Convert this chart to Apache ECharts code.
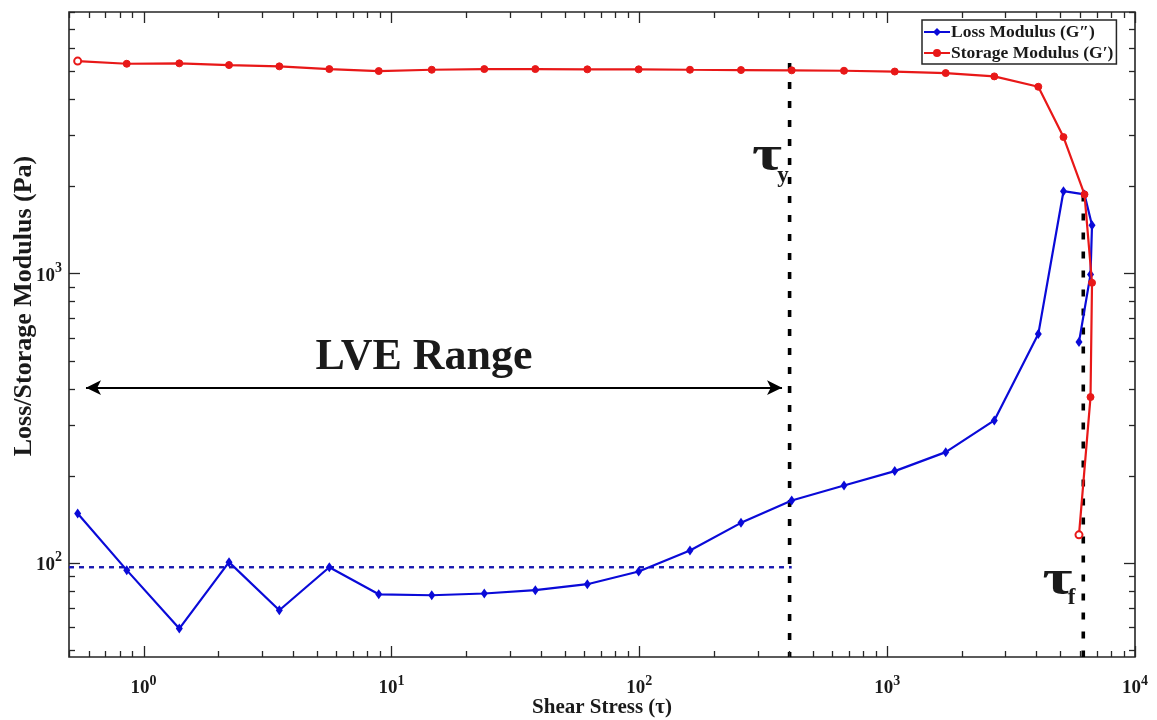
<!DOCTYPE html>
<html>
<head>
<meta charset="utf-8">
<script src="https://cdn.jsdelivr.net/npm/echarts@6.0.0/dist/echarts.min.js"></script>
<style>
html,body{margin:0;padding:0;background:#fff;}
#chart{width:1157px;height:720px;}
</style>
</head>
<body>
<div id="chart"></div>
<script>
// ---- data ----
const shearStress = [0.542, 0.855, 1.393, 2.211, 3.528, 5.614, 8.886, 14.54, 23.69, 38.06, 61.7, 99.4, 160.1, 257.2, 412, 669.8, 1073, 1723, 2706, 4072, 5146, 6255, 6708, 6615, 5943];
const lossModulus = [148.2, 94.4, 59.3, 100.6, 68.6, 96.6, 77.9, 77.3, 78.4, 80.5, 84.4, 93.4, 110.4, 137.5, 164.3, 185.1, 207.5, 241.3, 310.5, 617, 1923, 1875, 1466, 992, 579];
const storageModulus = [5415, 5300, 5317, 5246, 5192, 5081, 5001, 5053, 5081, 5081, 5070, 5070, 5053, 5042, 5030, 5014, 4982, 4922, 4794, 4414, 2958, 1875, 928, 374, 125];
const seriesNames = ['Loss Modulus (G\u2033)', 'Storage Modulus (G\u2032)'];
const xRange = [0.5, 10000];
const yRange = [47.3, 8000];
// annotation lines (data space)
const lveLevel = [[0.5, 96.6], [412, 96.6]];
const tauYLine = [[404, 5330], [404, 47.3]];
const tauFLine = [[6185, 1875], [6185, 47.3]];
const lveArrow = [[0.5855, 403], [376.6, 403]];
// annotation text anchors (data space)
const lveTextAt = [13.53, 509.8];
const tauYAt = [327.5, 2520];
const tauYSubAt = [380, 2169];
const tauFAt = [4868, 86.5];
const tauFSubAt = [5545, 75.5];
// tick values (1..9 x 10^k inside range)
const xTickVals = [], yTickVals = [];
for (let k = -1; k <= 4; k++) for (let m = 1; m <= 9; m++) {
  const v = m * Math.pow(10, k);
  if (v >= xRange[0] - 1e-9 && v <= xRange[1] + 1e-9) xTickVals.push([v, 100, m === 1 ? 1 : 0]);
  if (v >= yRange[0] && v <= yRange[1] + 1e-9) yTickVals.push([1, v, m === 1 ? 1 : 0]);
}

const FONT = '"Liberation Serif", "Times New Roman", serif';
const BLUE = '#0a0ad8';
const RED = '#e81818';
const INK = '#1a1a1a';

function isPow10(v) {
  const l = Math.log10(v);
  return Math.abs(l - Math.round(l)) < 1e-6;
}
const powLabel = function (v) {
  if (!isPow10(v)) return '';
  return '{b|10}{s|' + Math.round(Math.log10(v)) + '}';
};
const labelRich = {
  b: {fontFamily: FONT, fontWeight: 'bold', fontSize: 19, color: INK, lineHeight: 24, verticalAlign: 'bottom'},
  s: {fontFamily: FONT, fontWeight: 'bold', fontSize: 14, color: INK, lineHeight: 9, verticalAlign: 'top'}
};

function tickRender(kind) {
  return function (params, api) {
    const cs = params.coordSys;
    const major = api.value(2) === 1;
    const len = major ? 11 : 6;
    const st = {stroke: '#262626', lineWidth: 1.3};
    if (kind === 'x') {
      const px = Math.round(api.coord([api.value(0), api.value(1)])[0]) + 0.5;
      const yb = cs.y + cs.height;
      return {type: 'group', children: [
        {type: 'line', shape: {x1: px, y1: yb, x2: px, y2: yb - len}, style: st},
        {type: 'line', shape: {x1: px, y1: cs.y, x2: px, y2: cs.y + len}, style: st}
      ]};
    }
    const py = Math.round(api.coord([api.value(0), api.value(1)])[1]) + 0.5;
    const xr = cs.x + cs.width;
    return {type: 'group', children: [
      {type: 'line', shape: {x1: cs.x, y1: py, x2: cs.x + len, y2: py}, style: st},
      {type: 'line', shape: {x1: xr, y1: py, x2: xr - len, y2: py}, style: st}
    ]};
  };
}

const chart = echarts.init(document.getElementById('chart'));
const option = {
  animation: false,
  backgroundColor: '#fff',
  grid: {left: 69, right: 22, top: 12, bottom: 63, containLabel: false, outerBoundsMode: 'none',
    show: true, borderColor: '#262626', borderWidth: 1.6, backgroundColor: 'transparent'},
  legend: {
    data: seriesNames, orient: 'vertical', left: 922, top: 20,
    itemWidth: 26, itemHeight: 10, itemGap: 3,
    padding: [3, 3, 2, 1], borderColor: '#262626', borderWidth: 1.5, backgroundColor: '#fff',
    textStyle: {fontFamily: FONT, fontWeight: 'bold', fontSize: 17.5, color: INK, padding: [0, 0, 0, -4]}
  },
  xAxis: {
    type: 'log', logBase: 10, min: xRange[0], max: xRange[1],
    name: 'Shear Stress (\u03c4)', nameLocation: 'middle', nameGap: 40, nameMoveOverlap: false,
    nameTextStyle: {fontFamily: FONT, fontWeight: 'bold', fontSize: 21, color: INK},
    axisLine: {show: false}, axisTick: {show: false}, splitLine: {show: false}, minorTick: {show: false},
    axisLabel: {formatter: powLabel, rich: labelRich, margin: 17, showMinLabel: true, showMaxLabel: true}
  },
  yAxis: {
    type: 'log', logBase: 10, min: yRange[0], max: yRange[1],
    axisLine: {show: false}, axisTick: {show: false}, splitLine: {show: false},
    axisLabel: {formatter: powLabel, rich: labelRich, margin: 7}
  },
  series: [
    {
      name: seriesNames[0], type: 'line', z: 4,
      data: shearStress.map((x, i) => [x, lossModulus[i]]),
      symbol: 'diamond', symbolSize: [7, 10],
      lineStyle: {color: BLUE, width: 2.2}, itemStyle: {color: BLUE}
    },
    {
      name: seriesNames[1], type: 'line', z: 5,
      data: shearStress.map((x, i) => {
        const d = {value: [x, storageModulus[i]]};
        if (i === 0 || i === shearStress.length - 1) d.symbol = 'emptyCircle';
        return d;
      }),
      symbol: 'circle', symbolSize: 7,
      lineStyle: {color: RED, width: 2.2}, itemStyle: {color: RED, borderColor: RED}
    },
    {
      name: 'lve', type: 'line', data: lveLevel, symbol: 'none', silent: true, z: 3,
      lineStyle: {color: '#1a1ab0', width: 2.4, type: [5, 5]}
    },
    {
      name: 'tauY', type: 'line', data: tauYLine, symbol: 'none', silent: true, z: 3,
      lineStyle: {color: '#000', width: 3.6, type: [7, 12]}
    },
    {
      name: 'tauF', type: 'line', data: tauFLine, symbol: 'none', silent: true, z: 3,
      lineStyle: {color: '#000', width: 3.6, type: [7, 12]}
    },
    {
      name: 'arrow', type: 'line', data: [], silent: true,
      markLine: {
        silent: true, symbol: ['arrow', 'arrow'], symbolSize: [11, 15],
        label: {show: false},
        lineStyle: {color: '#000', width: 1.8, type: 'solid'},
        data: [[{coord: lveArrow[0]}, {coord: lveArrow[1]}]]
      }
    },
    {name: 'xticks', type: 'custom', data: xTickVals, renderItem: tickRender('x'), silent: true, z: 6},
    {name: 'yticks', type: 'custom', data: yTickVals, renderItem: tickRender('y'), silent: true, z: 6}
  ]
};
chart.setOption(option);

const toPx = (p) => chart.convertToPixel({gridIndex: 0}, p);
function txt(at, text, size, sx) {
  const p = toPx(at);
  return {type: 'text', x: p[0], y: p[1], scaleX: sx || 1, z: 10, silent: true,
    style: {text: text, fontFamily: FONT, fontWeight: 'bold', fontSize: size, fill: INK, align: 'center', verticalAlign: 'middle'}};
}
chart.setOption({
  graphic: [
    txt(lveTextAt, 'LVE Range', 44),
    txt(tauYAt, '\u03c4', 50, 1.3),
    txt(tauYSubAt, 'y', 23),
    txt(tauFAt, '\u03c4', 50, 1.3),
    txt(tauFSubAt, 'f', 23),
    {type: 'text', x: 24, y: 306, rotation: Math.PI / 2, z: 10, silent: true,
      style: {text: 'Loss/Storage Modulus (Pa)', fontFamily: FONT, fontWeight: 'bold', fontSize: 26, fill: INK, align: 'center', verticalAlign: 'middle'}}
  ]
});
</script>
</body>
</html>
